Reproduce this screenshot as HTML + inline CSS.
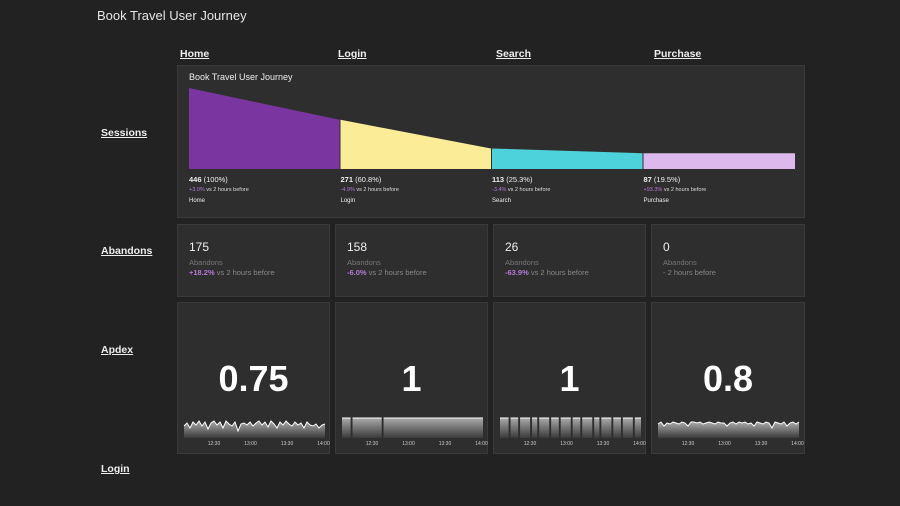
<!DOCTYPE html>
<html><head><meta charset="utf-8"><style>
body{margin:0;width:900px;height:506px;background:#222222;font-family:"Liberation Sans",sans-serif;color:#ddd;position:relative;overflow:hidden}
.abs{position:absolute}
.title{left:97px;top:8px;font-size:13px;color:#e6e6e6}
.lnk{font-size:10.5px;font-weight:bold;color:#eee;text-decoration:underline}
.panel{position:absolute;background:#2e2e2e;border:1px solid #3a3a3a;box-sizing:border-box}
.fv{font-size:7.5px;color:#eee}.fv b{font-weight:bold}
.fd{font-size:5.5px;color:#ddd}.fd span{color:#b57ad8}
.fn{font-size:6px;color:#eee}
.big{font-size:12px;color:#eee;position:absolute;left:11px;top:15px}
.ab{font-size:7.5px;color:#777;position:absolute;left:11px;top:33px}
.ch{font-size:7.5px;color:#888;position:absolute;left:11px;top:43px}
.ch span{color:#b57ad8;font-weight:bold}
.ap{position:absolute;width:100%;text-align:center;top:55px;font-size:36px;font-weight:bold;color:#fff}
</style></head><body>
<div class="abs title">Book Travel User Journey</div>
<div class="abs lnk" style="left:180px;top:48px">Home</div>
<div class="abs lnk" style="left:338px;top:48px">Login</div>
<div class="abs lnk" style="left:496px;top:48px">Search</div>
<div class="abs lnk" style="left:654px;top:48px">Purchase</div>
<div class="abs lnk" style="left:101px;top:127px">Sessions</div>
<div class="abs lnk" style="left:101px;top:245px">Abandons</div>
<div class="abs lnk" style="left:101px;top:344px">Apdex</div>
<div class="abs lnk" style="left:101px;top:463px">Login</div>

<div class="panel" style="left:177px;top:65px;width:628px;height:153px">
<div class="abs" style="left:11px;top:6px;font-size:9px;color:#eee">Book Travel User Journey</div>
<svg id="funnel" class="abs" style="left:0;top:0" width="628" height="153"></svg>
</div>

<div class="panel" style="left:177px;top:224px;width:153px;height:73px"><div class="big">175</div><div class="ab">Abandons</div><div class="ch"><span>+18.2%</span> vs 2 hours before</div></div>
<div class="panel" style="left:335px;top:224px;width:153px;height:73px"><div class="big">158</div><div class="ab">Abandons</div><div class="ch"><span>-6.0%</span> vs 2 hours before</div></div>
<div class="panel" style="left:493px;top:224px;width:153px;height:73px"><div class="big">26</div><div class="ab">Abandons</div><div class="ch"><span>-63.9%</span> vs 2 hours before</div></div>
<div class="panel" style="left:651px;top:224px;width:154px;height:73px"><div class="big">0</div><div class="ab">Abandons</div><div class="ch">- 2 hours before</div></div>

<div class="panel" style="left:177px;top:302px;width:153px;height:152px"><div class="ap">0.75</div><svg class="abs spark" id="s0" style="left:0;top:110px" width="153" height="40"></svg></div>
<div class="panel" style="left:335px;top:302px;width:153px;height:152px"><div class="ap">1</div><svg class="abs spark" id="s1" style="left:0;top:110px" width="153" height="40"></svg></div>
<div class="panel" style="left:493px;top:302px;width:153px;height:152px"><div class="ap">1</div><svg class="abs spark" id="s2" style="left:0;top:110px" width="153" height="40"></svg></div>
<div class="panel" style="left:651px;top:302px;width:154px;height:152px"><div class="ap">0.8</div><svg class="abs spark" id="s3" style="left:0;top:110px" width="153" height="40"></svg></div>

<script>
const steps=["Home","Login","Search","Purchase"];
const sessions=[446,271,113,87];
const pcts=["100%","60.8%","25.3%","19.5%"];
const deltas=["+3.0%","-4.9%","-3.4%","+93.3%"];
const colors=["#7b35a0","#fbec98","#4dd2dc","#dcb8ec"];
const ticks=["12:30","13:00","13:30","14:00"];
const spark0=[.6,.75,.5,.8,.65,.85,.6,.8,.45,.75,.85,.65,.8,.5,.85,.7,.6,.8,.35,.7,.75,.65,.8,.6,.75,.85,.65,.8,.55,.85,.7,.5,.8,.65,.85,.7,.6,.8,.65,.75,.5,.8,.65,.6,.7,.5,.65,.7];
const spark1=[1,1,1,1,null,1,1,1,1,1,1,1,1,1,1,1,1,null,1,1,1,1,1,1,1,1,1,1,1,1,1,1,1,1,1,1,1,1,1,1,1,1,1,1,1,1,1,1,1,1,1,1,1,1,1,1,1,1,1,1];
const spark2=[1,1,1,1,null,1,1,1,null,1,1,1,1,null,1,1,null,1,1,1,1,null,1,1,1,null,1,1,1,1,null,1,1,1,null,1,1,1,1,null,1,1,null,1,1,1,1,null,1,1,1,null,1,1,1,1,null,1,1,1];
const spark3=[.7,.8,.6,.75,.7,.8,.75,.7,.8,.75,.6,.8,.8,.75,.8,.7,.75,.8,.75,.7,.8,.75,.75,.6,.75,.8,.7,.8,.75,.8,.7,.75,.6,.8,.75,.7,.8,.75,.5,.8,.75,.7,.8,.6,.75,.8,.7,.8];
const NS="http://www.w3.org/2000/svg";
function mk(t,a,p){const e=document.createElementNS(NS,t);for(const k in a)e.setAttribute(k,a[k]);p.appendChild(e);return e;}
const f=document.getElementById('funnel');
const x0=11,segW=151.5,base=103,hMax=81;
const yS=v=>base-v/sessions[0]*hMax;
for(let i=0;i<steps.length;i++){
  const xa=x0+i*segW,xb=xa+segW-(i<3?1:0);
  const v1=sessions[i],v2=i<steps.length-1?sessions[i+1]:sessions[i];
  const p=mk('polygon',{points:`${xa},${yS(v1)} ${xb},${yS(v2)} ${xb},${base} ${xa},${base}`,fill:colors[i]},f);
  
  
  const g=document.createElement('div');
  
  
  g.className='abs';g.style.left=xa+'px';g.style.top='109px';
  g.innerHTML=`<div class="fv"><b>${sessions[i]}</b> (${pcts[i]})</div><div class="fd" style="margin-top:3px"><span>${deltas[i]}</span> vs 2 hours before</div><div class="fn" style="margin-top:5px">${steps[i]}</div>`;
  f.parentNode.appendChild(g);
}
const sparks=[spark0,spark1,spark2,spark3];
sparks.forEach((d,si)=>{
  const s=document.getElementById('s'+si);
  const L=6,R=147,top=5,bot=25;
  const gid='g'+si;
  const defs=mk('defs',{},s);const lg=mk('linearGradient',{id:gid,x1:0,y1:0,x2:0,y2:1},defs);
  mk('stop',{offset:0,'stop-color':'#aaa'},lg);mk('stop',{offset:1,'stop-color':'#3a3a3a'},lg);
  const n=d.length,step=(R-L)/(n-1),xs=i=>L+step*i,ys=v=>bot-(bot-top)*v;
  let segs=[],cur=[];
  d.forEach((v,i)=>{if(v===null){if(cur.length)segs.push(cur);cur=[];}else cur.push([xs(i),ys(v)]);});
  if(cur.length)segs.push(cur);
  segs.forEach((sg,k)=>{
    if(k>0)sg.unshift([sg[0][0]-step*0.6,sg[0][1]]);
    if(k<segs.length-1)sg.push([sg[sg.length-1][0]+step*0.6,sg[sg.length-1][1]]);
    const pts=sg.map(p=>p.join(',')).join(' ');
    const a=mk('polygon',{points:`${sg[0][0]},${bot} ${pts} ${sg[sg.length-1][0]},${bot}`,fill:`url(#${gid})`},s);
    
    
    const l=mk('polyline',{points:pts,fill:'none',stroke:'#fff','stroke-width':1},s);
    
    
  });
  ticks.forEach((t,i)=>{
    const tx=mk('text',{x:36+i*36.5,y:32,'font-size':5,fill:'#ccc','text-anchor':'middle','font-family':'Liberation Sans'},s);
    tx.textContent=t;
    
    
  });
});
</script>
</body></html>
